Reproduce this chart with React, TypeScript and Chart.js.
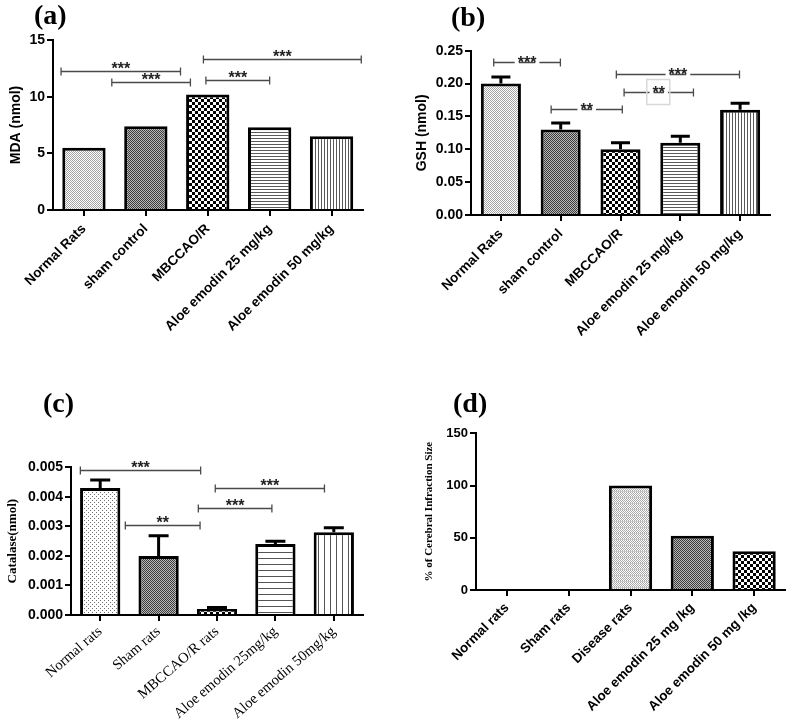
import React, { useEffect, useRef } from 'react';
import { Chart, registerables } from 'chart.js';

Chart.register(...registerables);
Chart.defaults.font.family = '"Liberation Sans", Arial, sans-serif';

// ---------------- DATA ----------------
const mdaCategories = ['Normal Rats', 'sham control', 'MBCCAO/R', 'Aloe emodin 25 mg/kg', 'Aloe emodin 50 mg/kg'];
const mdaValues = [5.5, 7.4, 10.2, 7.3, 6.5];
const mdaTicks = [0, 5, 10, 15];
const mdaBrackets = [
  { from: -0.37, to: 1.56, y: 12.26, label: '***' },
  { from: 0.45, to: 1.72, y: 11.26, label: '***' },
  { from: 1.93, to: 4.48, y: 13.35, label: '***' },
  { from: 1.97, to: 3.0, y: 11.47, label: '***' },
];

const gshCategories = ['Normal Rats', 'sham control', 'MBCCAO/R', 'Aloe emodin 25 mg/kg', 'Aloe emodin 50 mg/kg'];
const gshValues = [0.2, 0.13, 0.1, 0.11, 0.16];
const gshErrors = [0.01, 0.01, 0.01, 0.01, 0.01];
const gshTicks = [0, 0.05, 0.1, 0.15, 0.2, 0.25];
const gshBrackets = [
  { from: -0.12, to: 0.995, y: 0.2323, label: '***' },
  { from: 0.84, to: 2.03, y: 0.1613, label: '**' },
  { from: 1.93, to: 3.99, y: 0.2146, label: '***' },
  { from: 2.06, to: 3.22, y: 0.1867, label: '**' },
];

const catCategories = ['Normal rats', 'Sham rats', 'MBCCAO/R rats', 'Aloe emodin 25mg/kg', 'Aloe emodin 50mg/kg'];
const catValues = [0.0043, 0.002, 0.0002, 0.0024, 0.0028];
const catErrors = [0.00027, 0.00068, 0.00005, 0.0001, 0.00015];
const catTicks = [0, 0.001, 0.002, 0.003, 0.004, 0.005];
const catBrackets = [
  { from: -0.34, to: 1.72, y: 0.00492, label: '***' },
  { from: 0.43, to: 1.71, y: 0.00303, label: '**' },
  { from: 1.68, to: 2.94, y: 0.00362, label: '***' },
  { from: 1.97, to: 3.84, y: 0.00429, label: '***' },
];

const infCategories = ['Normal rats', 'Sham rats', 'Disease rats', 'Aloe emodin 25 mg /kg', 'Aloe emodin 50 mg /kg'];
const infValues = [0, 0, 100, 52, 37];
const infTicks = [0, 50, 100, 150];

// ---------------- PATTERNS ----------------
function makePattern(kind: string, target: CanvasRenderingContext2D): CanvasPattern | string {
  const c = document.createElement('canvas');
  const px = (g: CanvasRenderingContext2D, col: string, x: number, y: number, w = 1, h = 1) => {
    g.fillStyle = col;
    g.fillRect(x, y, w, h);
  };
  let g: CanvasRenderingContext2D;
  switch (kind) {
    case 'fine':
      c.width = 2; c.height = 2; g = c.getContext('2d')!;
      px(g, '#ffffff', 0, 0, 2, 2); px(g, '#a4a4a4', 0, 0); px(g, '#a4a4a4', 1, 1);
      break;
    case 'dark':
      c.width = 2; c.height = 2; g = c.getContext('2d')!;
      px(g, '#b8b8b8', 0, 0, 2, 2); px(g, '#3c3c3c', 0, 0); px(g, '#3c3c3c', 1, 1);
      break;
    case 'checker':
      c.width = 6; c.height = 6; g = c.getContext('2d')!;
      px(g, '#ffffff', 0, 0, 6, 6); px(g, '#000000', 0, 0, 3, 3); px(g, '#000000', 3, 3, 3, 3);
      break;
    case 'hlines':
      c.width = 1; c.height = 3; g = c.getContext('2d')!;
      px(g, '#ffffff', 0, 0, 1, 3); px(g, '#5a5a5a', 0, 0);
      break;
    case 'vlines':
      c.width = 3; c.height = 1; g = c.getContext('2d')!;
      px(g, '#ffffff', 0, 0, 3, 1); px(g, '#5a5a5a', 0, 0);
      break;
    case 'hlinesWide':
      c.width = 1; c.height = 6; g = c.getContext('2d')!;
      px(g, '#ffffff', 0, 0, 1, 6); px(g, '#555555', 0, 0);
      break;
    case 'vlinesWide':
      c.width = 6; c.height = 1; g = c.getContext('2d')!;
      px(g, '#ffffff', 0, 0, 6, 1); px(g, '#555555', 0, 0);
      break;
    case 'dots':
      c.width = 4; c.height = 4; g = c.getContext('2d')!;
      px(g, '#ffffff', 0, 0, 4, 4); px(g, '#707070', 0, 0); px(g, '#707070', 2, 2);
      break;
    case 'disease':
      c.width = 2; c.height = 6; g = c.getContext('2d')!;
      px(g, '#ffffff', 0, 0, 2, 6);
      for (let y = 0; y < 6; y++) px(g, '#a8a8a8', y % 2, y);
      px(g, '#c8c8c8', 0, 5, 2, 1);
      break;
    default:
      return '#ffffff';
  }
  return target.createPattern(c, 'repeat')!;
}

// ---------------- ANNOTATION PLUGIN ----------------
const annotPlugin = {
  id: 'annot',
  afterDatasetsDraw(chart: any, _args: any, opts: any) {
    const { ctx } = chart;
    const xs = chart.scales.x;
    const ys = chart.scales.y;
    const meta = chart.getDatasetMeta(0);
    const vals = chart.data.datasets[0].data as number[];
    ctx.save();
    if (opts.errors) {
      ctx.strokeStyle = '#000';
      ctx.lineWidth = 3;
      (opts.errors as number[]).forEach((e, i) => {
        const bx = meta.data[i].x;
        const top = ys.getPixelForValue(vals[i]);
        const ep = ys.getPixelForValue(vals[i] + e);
        ctx.beginPath();
        ctx.moveTo(bx, top);
        ctx.lineTo(bx, ep);
        ctx.moveTo(bx - opts.cap / 2, ep);
        ctx.lineTo(bx + opts.cap / 2, ep);
        ctx.stroke();
      });
    }
    if (opts.brackets) {
      ctx.font = 'bold 16px "Liberation Sans", Arial, sans-serif';
      ctx.textAlign = 'center';
      ctx.textBaseline = 'alphabetic';
      (opts.brackets as any[]).forEach((b, i) => {
        const x1 = xs.getPixelForValue(b.from);
        const x2 = xs.getPixelForValue(b.to);
        const yy = Math.round(ys.getPixelForValue(b.y)) + 0.5;
        const cx = (x1 + x2) / 2;
        const tw = ctx.measureText(b.label).width;
        ctx.strokeStyle = opts.lineColor || '#4a4a4a';
        ctx.lineWidth = 1.3;
        ctx.beginPath();
        if (opts.gap) {
          ctx.moveTo(x1, yy); ctx.lineTo(cx - tw / 2 - 3, yy);
          ctx.moveTo(cx - tw / 2 + 1, yy); ctx.lineTo(cx + tw / 2 - 1, yy);
          ctx.moveTo(cx + tw / 2 + 3, yy); ctx.lineTo(x2, yy);
        } else {
          ctx.moveTo(x1, yy); ctx.lineTo(x2, yy);
        }
        ctx.moveTo(x1, yy - 4); ctx.lineTo(x1, yy + 4);
        ctx.moveTo(x2, yy - 4); ctx.lineTo(x2, yy + 4);
        ctx.stroke();
        ctx.fillStyle = '#222';
        ctx.fillText(b.label, cx, yy + opts.starDy);
        if (opts.highlight === i) {
          ctx.strokeStyle = '#d8d8d8';
          ctx.lineWidth = 1.5;
          ctx.strokeRect(cx - 12, yy - 13, 23, 25);
        }
      });
    }
    ctx.restore();
  },
  afterDraw(chart: any, _args: any, opts: any) {
    if (!opts.panel) return;
    const { ctx } = chart;
    ctx.save();
    ctx.font = 'bold 28px "Liberation Serif", "Times New Roman", serif';
    ctx.fillStyle = '#000';
    ctx.textAlign = 'left';
    ctx.textBaseline = 'middle';
    ctx.fillText(opts.panel.text, opts.panel.x, opts.panel.y);
    ctx.restore();
  },
};

// ---------------- PANELS ----------------
type Spec = {
  left: number; top: number; w: number; h: number;
  padL: number; padT: number; padR: number; yW: number; xH: number;
  barPct: number; rot: number; xPad: number;
  categories: string[]; values: number[]; ticks: number[]; min: number; max: number;
  fmt: (v: number) => string;
  tickFont: any; xFont: any; title: string; titleFont: any;
  panel: { text: string; x: number; y: number };
  patterns: string[];
  errors?: number[]; cap?: number;
  brackets?: any[]; gap?: boolean; starDy?: number; highlight?: number;
};

const sansBold = (size: number) => ({ family: '"Liberation Sans", Arial, sans-serif', size, weight: 'bold' });
const serif = (size: number, weight = 'normal') => ({ family: '"Liberation Serif", "Times New Roman", serif', size, weight });

const specs: Spec[] = [
  {
    left: 0, top: 0, w: 390, h: 360, padL: 8, padT: 40, padR: 27.5, yW: 45, xH: 150,
    barPct: 0.7, rot: 45, xPad: 5, categories: mdaCategories, values: mdaValues, ticks: mdaTicks, min: 0, max: 15,
    fmt: (v) => String(v), tickFont: sansBold(14), xFont: sansBold(13.6), title: 'MDA (nmol)', titleFont: sansBold(14),
    panel: { text: '(a)', x: 34, y: 17 }, patterns: ['fine', 'dark', 'checker', 'hlines', 'vlines'],
    brackets: mdaBrackets, gap: false, starDy: 2,
  },
  {
    left: 390, top: 0, w: 397, h: 360, padL: 24, padT: 50.7, padR: 17, yW: 57, xH: 145,
    barPct: 0.67, rot: 45, xPad: 5, categories: gshCategories, values: gshValues, ticks: gshTicks, min: 0, max: 0.25,
    fmt: (v) => v.toFixed(2), tickFont: sansBold(14), xFont: sansBold(13.6), title: 'GSH (nmol)', titleFont: sansBold(14),
    panel: { text: '(b)', x: 61, y: 19 }, patterns: ['fine', 'dark', 'checker', 'hlines', 'vlines'],
    errors: gshErrors, cap: 19, brackets: gshBrackets, gap: true, starDy: 5, highlight: 3,
  },
  {
    left: 0, top: 360, w: 390, h: 361, padL: 5, padT: 107.3, padR: 27, yW: 66, xH: 106,
    barPct: 0.69, rot: 41, xPad: 2, categories: catCategories, values: catValues, ticks: catTicks, min: 0, max: 0.005,
    fmt: (v) => v.toFixed(3), tickFont: sansBold(14), xFont: serif(14.6), title: 'Catalase(nmol)', titleFont: serif(13, 'bold'),
    panel: { text: '(c)', x: 43, y: 45 }, patterns: ['dots', 'dark', 'checker', 'hlinesWide', 'vlinesWide'],
    errors: catErrors, cap: 20, brackets: catBrackets, gap: false, starDy: 2,
  },
  {
    left: 390, top: 360, w: 397, h: 361, padL: 33, padT: 73.3, padR: 2, yW: 53, xH: 131,
    barPct: 0.7, rot: 45, xPad: 4, categories: infCategories, values: infValues, ticks: infTicks, min: 0, max: 150,
    fmt: (v) => String(v), tickFont: sansBold(13), xFont: sansBold(13.4), title: '% of Cerebral Infraction Size', titleFont: serif(11, 'bold'),
    panel: { text: '(d)', x: 63, y: 45 }, patterns: ['fine', 'fine', 'disease', 'dark', 'checker'],
  },
];

function buildConfig(s: Spec, ctx: CanvasRenderingContext2D): any {
  const axisGrid = {
    display: true, drawOnChartArea: false, drawTicks: true, tickLength: 6, color: '#000', lineWidth: 2, offset: false,
  };
  return {
    type: 'bar',
    data: {
      labels: s.categories,
      datasets: [{
        data: s.values,
        backgroundColor: s.patterns.map((p) => makePattern(p, ctx)),
        borderColor: '#000',
        borderWidth: 3,
        borderSkipped: 'start',
        barPercentage: s.barPct,
        categoryPercentage: 1,
      }],
    },
    options: {
      responsive: false,
      animation: false,
      devicePixelRatio: 1,
      layout: { padding: { left: s.padL, top: s.padT, right: s.padR, bottom: 0 } },
      plugins: {
        legend: { display: false },
        tooltip: { enabled: false },
        annot: {
          errors: s.errors, cap: s.cap, brackets: s.brackets, gap: s.gap, starDy: s.starDy,
          highlight: s.highlight, panel: s.panel,
        },
      },
      scales: {
        x: {
          offset: true,
          grid: axisGrid,
          border: { display: true, color: '#000', width: 2 },
          ticks: { color: '#000', font: s.xFont, minRotation: s.rot, maxRotation: s.rot, autoSkip: false, padding: s.xPad },
          afterFit: (sc: any) => { sc.height = s.xH; },
        },
        y: {
          min: s.min,
          max: s.max,
          grid: axisGrid,
          border: { display: true, color: '#000', width: 2 },
          ticks: { color: '#000', font: s.tickFont, padding: 2, callback: (v: any) => s.fmt(Number(v)) },
          afterBuildTicks: (sc: any) => { sc.ticks = s.ticks.map((v) => ({ value: v })); },
          title: { display: true, text: s.title, font: s.titleFont, color: '#000', padding: 0 },
          afterFit: (sc: any) => { sc.width = s.yW; },
        },
      },
    },
    plugins: [annotPlugin],
  };
}

function Panel({ spec }: { spec: Spec }) {
  const ref = useRef<HTMLCanvasElement>(null);
  useEffect(() => {
    const cv = ref.current!;
    const chart = new Chart(cv, buildConfig(spec, cv.getContext('2d')!));
    return () => chart.destroy();
  }, []);
  return (
    <canvas
      ref={ref}
      width={spec.w}
      height={spec.h}
      style={{ position: 'absolute', left: spec.left, top: spec.top, width: spec.w, height: spec.h, display: 'block' }}
    />
  );
}

export default function App() {
  return (
    <div style={{ position: 'absolute', left: 0, top: 0, width: 787, height: 721, background: '#fff', overflow: 'hidden' }}>
      {specs.map((s, i) => (
        <Panel key={i} spec={s} />
      ))}
    </div>
  );
}
